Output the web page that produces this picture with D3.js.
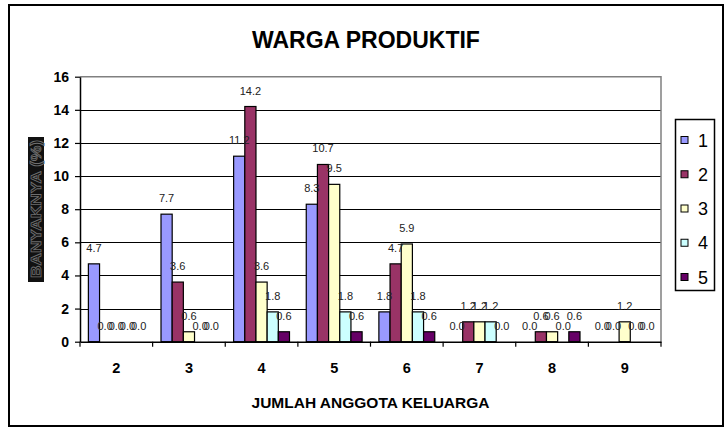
<!DOCTYPE html>
<html>
<head>
<meta charset="utf-8">
<script src="https://cdn.jsdelivr.net/npm/d3@7"></script>
<style>
  body { margin: 0; background: white; }
  text { font-family: Arial, "Liberation Sans", sans-serif; }
</style>
</head>
<body>
<svg id="chart" width="725" height="427"></svg>
<script>
/* DATA */

const categories = ['2', '3', '4', '5', '6', '7', '8', '9']
const seriesNames = ['1', '2', '3', '4', '5']
const series1 = [4.7, 7.7, 11.2, 8.3, 1.8, 0.0, 0.0, 0.0]
const series2 = [0.0, 3.6, 14.2, 10.7, 4.7, 1.2, 0.6, 0.0]
const series3 = [0.0, 0.6, 3.6, 9.5, 5.9, 1.2, 0.6, 1.2]
const series4 = [0.0, 0.0, 1.8, 1.8, 1.8, 1.2, 0.0, 0.0]
const series5 = [0.0, 0.0, 0.6, 0.6, 0.6, 0.0, 0.6, 0.0]
const yTicks = [0, 2, 4, 6, 8, 10, 12, 14, 16]

const seriesColours = ['#9999ff', '#993366', '#ffffcc', '#ccffff', '#660066']
const allSeries = [series1, series2, series3, series4, series5]

/* LAYOUT */

const svg = d3.select('#chart')
const plot = { left: 80, right: 661, top: 76.7, bottom: 341.7 }

const x0 = d3.scaleBand()
  .domain(categories)
  .range([plot.left, plot.right])

const x1 = d3.scaleBand()
  .domain(seriesNames)
  .range([0, x0.bandwidth()])
  .paddingOuter(0.75)

const y = d3.scaleLinear()
  .domain([0, 16])
  .range([plot.bottom, plot.top])

const colour = d3.scaleOrdinal().domain(seriesNames).range(seriesColours)

// Outer frame
svg.append('rect')
  .attr('x', 9)
  .attr('y', 5)
  .attr('width', 714)
  .attr('height', 421)
  .attr('fill', 'white')
  .attr('stroke', 'black')
  .attr('stroke-width', 2)

/* TITLE */
svg.append('text')
  .attr('x', 366)
  .attr('y', 48)
  .attr('text-anchor', 'middle')
  .attr('font-size', 23)
  .attr('font-weight', 'bold')
  .text('WARGA PRODUKTIF')

/* GRID + PLOT BORDER */
const grid = svg.append('g')
grid.selectAll('line')
  .data(yTicks.filter(d => d > 0 && d < 16))
  .enter().append('line')
  .attr('x1', plot.left)
  .attr('x2', plot.right)
  .attr('y1', d => Math.round(y(d)) + 0.5)
  .attr('y2', d => Math.round(y(d)) + 0.5)
  .attr('stroke', 'black')
  .attr('stroke-width', 1.2)

// top and right border in grey
svg.append('path')
  .attr('d', `M${plot.left},${y(16)}H${plot.right}V${plot.bottom}`)
  .attr('fill', 'none')
  .attr('stroke', '#808080')
  .attr('stroke-width', 1.5)

/* BARS */
const groups = svg.append('g').selectAll('g')
  .data(categories)
  .enter().append('g')
  .attr('transform', d => `translate(${x0(d)},0)`)

groups.selectAll('rect')
  .data((d, ci) => seriesNames.map((s, si) => ({ s: s, v: allSeries[si][ci] })))
  .enter().append('rect')
  .filter(d => d.v > 0)
  .attr('x', d => x1(d.s))
  .attr('y', d => y(d.v))
  .attr('width', x1.bandwidth())
  .attr('height', d => y(0) - y(d.v))
  .attr('fill', d => colour(d.s))
  .attr('stroke', 'black')
  .attr('stroke-width', 1.2)

// Data labels (overlapping zero labels as in the original)
groups.selectAll('text')
  .data((d, ci) => seriesNames.map((s, si) => ({ s: s, v: allSeries[si][ci] })))
  .enter().append('text')
  .attr('x', d => x1(d.s) + x1.bandwidth() / 2)
  .attr('y', d => y(d.v) - 12)
  .attr('text-anchor', 'middle')
  .attr('font-size', 11)
  .attr('fill', '#222')
  .text(d => d3.format('.1f')(d.v))

/* AXES */
const yAxis = svg.append('g')
  .attr('transform', `translate(${plot.left},0)`)
  .call(d3.axisLeft(y).tickValues(yTicks).tickSize(5).tickSizeOuter(0).tickPadding(6))
yAxis.select('.domain').attr('stroke', 'black').attr('stroke-width', 1.5)
yAxis.selectAll('.tick line').attr('stroke', 'black').attr('stroke-width', 1.2)
yAxis.selectAll('.tick text')
  .attr('font-size', 14)
  .attr('font-weight', 'bold')
  .attr('font-family', 'Arial, "Liberation Sans", sans-serif')
  .attr('fill', 'black')

const xAxis = svg.append('g')
  .attr('transform', `translate(0,${plot.bottom})`)
  .call(d3.axisBottom(x0).tickSize(0).tickPadding(21))
xAxis.select('.domain').attr('stroke', 'black').attr('stroke-width', 1.5)
xAxis.selectAll('.tick text')
  .attr('font-size', 14.5)
  .attr('font-weight', 'bold')
  .attr('font-family', 'Arial, "Liberation Sans", sans-serif')
  .attr('fill', 'black')

// category separator ticks
xAxis.selectAll('line.sep')
  .data(categories.concat(['end']))
  .enter().append('line')
  .attr('class', 'sep')
  .attr('x1', (d, i) => i < categories.length ? x0(d) : plot.right)
  .attr('x2', (d, i) => i < categories.length ? x0(d) : plot.right)
  .attr('y1', 0)
  .attr('y2', 5)
  .attr('stroke', 'black')
  .attr('stroke-width', 1.2)

// X axis title
svg.append('text')
  .attr('x', (plot.left + plot.right) / 2)
  .attr('y', 408)
  .attr('text-anchor', 'middle')
  .attr('font-size', 15.5)
  .attr('font-weight', 'bold')
  .text('JUMLAH ANGGOTA KELUARGA')

// Y axis title (dark box, outlined text)
svg.append('rect')
  .attr('x', 28)
  .attr('y', 137)
  .attr('width', 16)
  .attr('height', 145)
  .attr('fill', '#111')
svg.append('text')
  .attr('transform', 'translate(41,209) rotate(-90)')
  .attr('text-anchor', 'middle')
  .attr('font-size', 15)
  .attr('font-weight', 'bold')
  .attr('fill', '#111')
  .attr('stroke', '#6e6e6e')
  .attr('stroke-width', 0.8)
  .attr('textLength', 138)
  .attr('lengthAdjust', 'spacingAndGlyphs')
  .text('BANYAKNYA (%)')

/* LEGEND */
svg.append('rect')
  .attr('x', 675.5)
  .attr('y', 119.5)
  .attr('width', 39)
  .attr('height', 171)
  .attr('fill', 'white')
  .attr('stroke', 'black')
  .attr('stroke-width', 1.5)

const legendY = d3.scalePoint().domain(seriesNames).range([140, 277])
const legend = svg.append('g').selectAll('g')
  .data(seriesNames)
  .enter().append('g')
  .attr('transform', d => `translate(0,${legendY(d)})`)

legend.append('rect')
  .attr('x', 681)
  .attr('y', -3.5)
  .attr('width', 7)
  .attr('height', 7)
  .attr('fill', d => colour(d))
  .attr('stroke', 'black')
  .attr('stroke-width', 1)

legend.append('text')
  .attr('x', 698)
  .attr('y', 6.5)
  .attr('font-size', 18)
  .text(d => d)
</script>
</body>
</html>
